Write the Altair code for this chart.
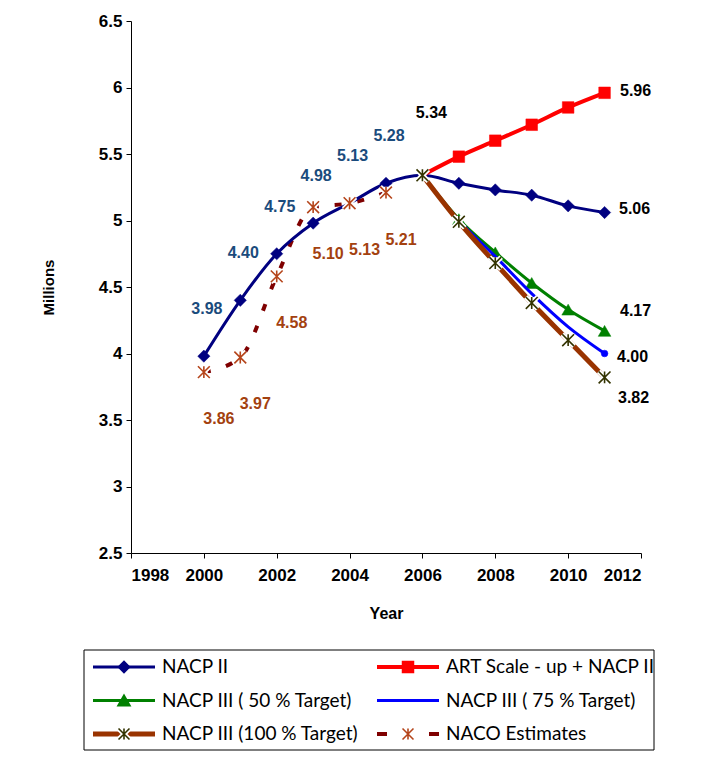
import altair as alt
import pandas as pd

# ---------------- data ----------------
years_nacp2 = [2000, 2001, 2002, 2003, 2004, 2005, 2006, 2007, 2008, 2009, 2010, 2011]
nacp2 = [3.98, 4.40, 4.75, 4.98, 5.13, 5.28, 5.34, 5.28, 5.23, 5.19, 5.11, 5.06]
nacp2_marker_years = [2000, 2001, 2002, 2003, 2005, 2007, 2008, 2009, 2010, 2011]

years_proj = [2006, 2007, 2008, 2009, 2010, 2011]
art_nacp2 = [5.34, 5.48, 5.60, 5.72, 5.85, 5.96]
nacp3_50 = [5.34, 5.01, 4.76, 4.53, 4.33, 4.17]
nacp3_75 = [5.34, 5.00, 4.73, 4.45, 4.20, 4.00]
nacp3_100 = [5.34, 4.99, 4.68, 4.38, 4.10, 3.82]

years_naco = [2000, 2001, 2002, 2003, 2004, 2005]
naco = [3.86, 3.97, 4.58, 5.10, 5.13, 5.21]

x_ticks = [1998, 2000, 2002, 2004, 2006, 2008, 2010, 2012]
y_ticks = [2.5, 3, 3.5, 4, 4.5, 5, 5.5, 6, 6.5]

legend_names = [
    "NACP II",
    "ART Scale - up + NACP II",
    "NACP III  ( 50 % Target)",
    "NACP III ( 75 % Target)",
    "NACP III  (100 % Target)",
    "NACO Estimates",
]
legend_col = [0, 1, 0, 1, 0, 1]
legend_row = [0, 0, 1, 1, 2, 2]

# ---------------- styles ----------------
NAVY = "#000080"
RED = "#FF0000"
GREEN = "#008000"
BLUE = "#0000FF"
BROWN = "#993300"
DARKRED = "#7F0000"
NACO_MARK = "#B5451B"
OLIVE = "#333300"
LBL_BLUE = "#1A4B7C"
LBL_BROWN = "#A3410F"
ASTERISK = "M-1,-1L1,1M-1,1L1,-1M0,-1L0,1"
FONT = "Liberation Sans"


def mk(years, vals):
    return pd.DataFrame({"year": years, "value": vals})


df_nacp2 = mk(years_nacp2, nacp2)
df_art = mk(years_proj, art_nacp2)
df_50 = mk(years_proj, nacp3_50)
df_75 = mk(years_proj, nacp3_75)
df_100 = mk(years_proj, nacp3_100)
df_naco = mk(years_naco, naco)

x_enc = alt.X(
    "year:Q",
    scale=alt.Scale(domain=[1998, 2012], nice=False, zero=False),
    axis=alt.Axis(values=x_ticks, format="d", title="Year", labelPadding=9,
                  titlePadding=22, tickSize=5, titleFontSize=16),
)
y_enc = alt.Y(
    "value:Q",
    scale=alt.Scale(domain=[2.5, 6.5], nice=False, zero=False),
    axis=alt.Axis(values=y_ticks, format="~g", title="Millions", labelPadding=4,
                  titlePadding=42, tickSize=5, titleFontSize=15),
)


def line(d, color, width, dash=None):
    kw = dict(color=color, strokeWidth=width, interpolate="monotone")
    if dash:
        kw["strokeDash"] = dash
    return alt.Chart(d).mark_line(**kw).encode(x=x_enc, y=y_enc)


def filled_marks(d, shape, color, size):
    return alt.Chart(d).mark_point(shape=shape, filled=True, fill=color, stroke=color,
                                   strokeWidth=0.5, size=size, opacity=1).encode(x=x_enc, y=y_enc)


def asterisks(d, color, size=140):
    halo = alt.Chart(d).mark_point(shape=ASTERISK, filled=False, stroke="white",
                                   strokeWidth=5, size=size, opacity=1).encode(x=x_enc, y=y_enc)
    mark = alt.Chart(d).mark_point(shape=ASTERISK, filled=False, stroke=color,
                                   strokeWidth=1.6, size=size, opacity=1).encode(x=x_enc, y=y_enc)
    return [halo, mark]


def labels(d, color, dx, dy, cond=None):
    c = alt.Chart(d)
    if cond is not None:
        c = c.transform_filter(cond)
    return c.mark_text(font=FONT, fontSize=16, fontWeight="bold", color=color,
                       dx=dx, dy=dy).encode(x=x_enc, y=y_enc,
                                            text=alt.Text("value:Q", format=".2f"))


main_layers = [
    line(df_naco, DARKRED, 4, dash=[7, 16]),
    line(df_nacp2, NAVY, 3),
    filled_marks(df_nacp2, "diamond", NAVY, 150).transform_filter(
        alt.FieldOneOfPredicate(field="year", oneOf=nacp2_marker_years)),
    line(df_art, RED, 4),
    filled_marks(df_art, "square", RED, 135).transform_filter(alt.datum.year > 2006),
    line(df_50, GREEN, 3),
    filled_marks(df_50, "triangle-up", GREEN, 160).transform_filter(alt.datum.year > 2006),
    line(df_75, BLUE, 3),
    filled_marks(df_75, "circle", BLUE, 45).transform_filter(alt.datum.year == 2011),
    line(df_100, BROWN, 5),
]
main_layers += asterisks(df_naco, NACO_MARK)
main_layers += asterisks(df_100, OLIVE)
main_layers += [
    labels(df_nacp2, LBL_BLUE, 3, -47, alt.datum.year <= 2005),
    labels(df_nacp2, "black", 9, -62, alt.datum.year == 2006),
    labels(df_naco, LBL_BROWN, 15, 47),
    labels(df_art, "black", 31, -2, alt.datum.year == 2011),
    labels(df_nacp2, "black", 30, -4, alt.datum.year == 2011),
    labels(df_50, "black", 31, -20, alt.datum.year == 2011),
    labels(df_75, "black", 28, 3, alt.datum.year == 2011),
    labels(df_100, "black", 29, 21, alt.datum.year == 2011),
]
main = alt.layer(*main_layers)

# ---------------- legend (drawn below the plot) ----------------
leg_df = pd.DataFrame({"name": legend_names, "col": legend_col, "row": legend_row})
lx = alt.X("col:Q", scale=alt.Scale(domain=[0, 1], range=[-38, 246]), axis=None)
lx2 = alt.X2("col:Q")
ly = alt.Y("row:Q", scale=alt.Scale(domain=[0, 2], range=[646, 713]), axis=None)

leg_styles = [
    dict(color=NAVY, width=3, dash=None, shape="diamond", mcolor=NAVY, size=110, filled=True),
    dict(color=RED, width=4, dash=None, shape="square", mcolor=RED, size=110, filled=True),
    dict(color=GREEN, width=3, dash=None, shape="triangle-up", mcolor=GREEN, size=130, filled=True),
    dict(color=BLUE, width=3, dash=None, shape=None, mcolor=BLUE, size=0, filled=True),
    dict(color=BROWN, width=5, dash=None, shape=ASTERISK, mcolor=OLIVE, size=120, filled=False),
    dict(color=DARKRED, width=4, dash=[10, 42], shape=ASTERISK, mcolor=NACO_MARK, size=120, filled=False),
]

box = alt.Chart(pd.DataFrame({"k": [0]})).mark_rect(
    fill="white", stroke="black", strokeWidth=1
).encode(x=alt.value(-47), x2=alt.value(523), y=alt.value(629), y2=alt.value(729))

leg_layers = [box]
for name, st in zip(legend_names, leg_styles):
    base = alt.Chart(leg_df).transform_filter(alt.datum.name == name)
    rkw = dict(color=st["color"], strokeWidth=st["width"], x2Offset=62)
    if st["dash"]:
        rkw["strokeDash"] = st["dash"]
    leg_layers.append(base.mark_rule(**rkw).encode(x=lx, x2=lx2, y=ly))
    if st["shape"]:
        if st["filled"]:
            leg_layers.append(base.mark_point(shape=st["shape"], filled=True, fill=st["mcolor"],
                                              stroke=st["mcolor"], size=st["size"], opacity=1,
                                              xOffset=31).encode(x=lx, y=ly))
        else:
            leg_layers.append(base.mark_point(shape=st["shape"], filled=False, stroke="white",
                                              strokeWidth=5, size=st["size"], opacity=1,
                                              xOffset=31).encode(x=lx, y=ly))
            leg_layers.append(base.mark_point(shape=st["shape"], filled=False, stroke=st["mcolor"],
                                              strokeWidth=1.6, size=st["size"], opacity=1,
                                              xOffset=31).encode(x=lx, y=ly))
leg_layers.append(
    alt.Chart(leg_df).mark_text(align="left", baseline="middle", dx=69, font="Lato",
                                fontSize=19, color="black").encode(x=lx, y=ly, text="name:N")
)
legend = alt.layer(*leg_layers)

chart = (
    alt.layer(main, legend)
    .resolve_scale(x="independent", y="independent")
    .properties(
        width=510,
        height=532,
        padding={"left": 123, "top": 13, "right": 60, "bottom": 210},
        autosize=alt.AutoSizeParams(type="none"),
    )
    .configure_view(stroke=None)
    .configure_axis(
        grid=False,
        domainColor="black",
        tickColor="black",
        labelColor="black",
        labelFont=FONT,
        labelFontSize=17,
        labelFontWeight="bold",
        titleFont=FONT,
        titleFontWeight="bold",
        titleColor="black",
    )
)

chart.save("out.html", embed_options={"renderer": "svg", "actions": False})
